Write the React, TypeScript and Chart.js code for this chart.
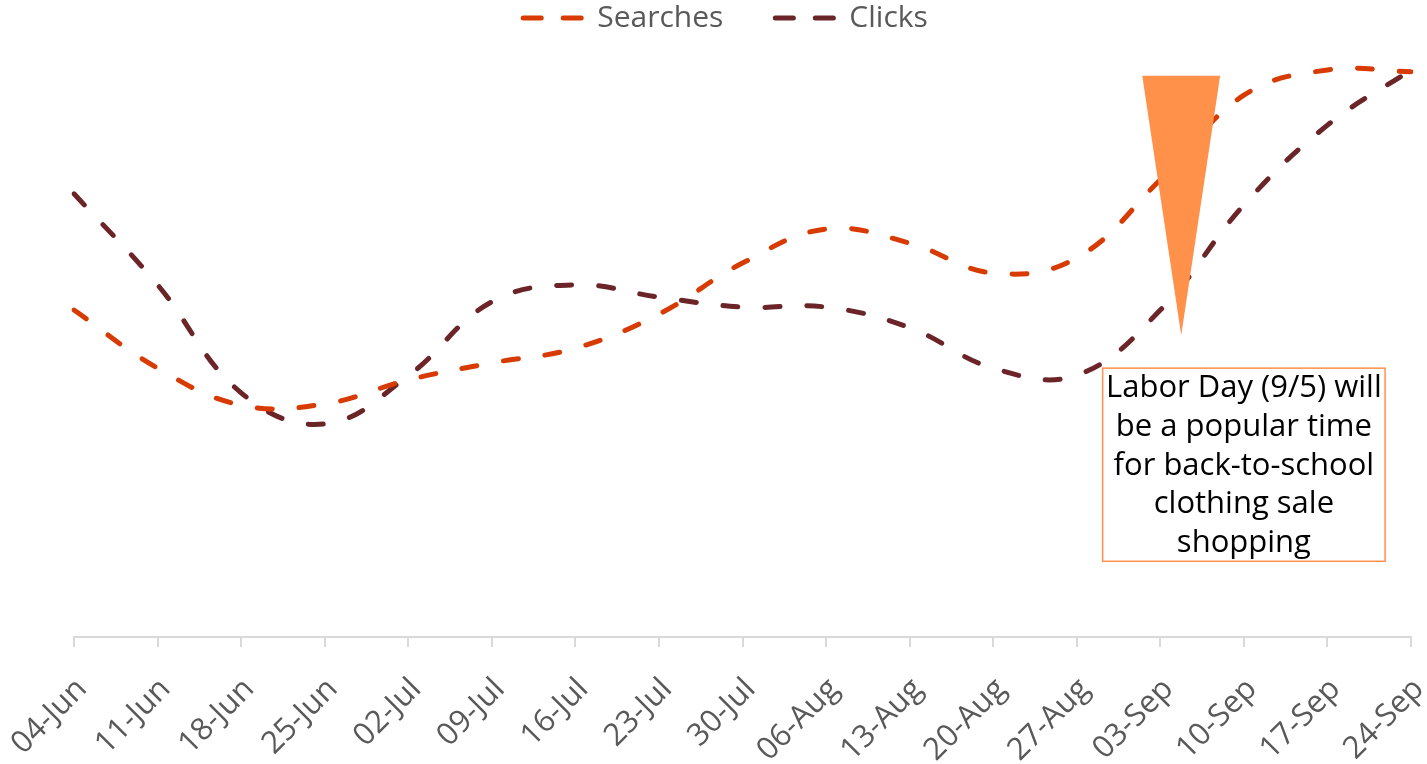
import React, { useEffect, useRef } from "react";
import { Chart, registerables } from "chart.js";

Chart.register(...registerables);

const categories = [
  "04-Jun", "11-Jun", "18-Jun", "25-Jun", "02-Jul", "09-Jul", "16-Jul", "23-Jul",
  "30-Jul", "06-Aug", "13-Aug", "20-Aug", "27-Aug", "03-Sep", "10-Sep", "17-Sep", "24-Sep",
];

const searches = [55.7, 45.8, 39.5, 39.7, 43.8, 46.7, 49.2, 55.0, 63.7, 69.5, 67.1, 62.0, 64.6, 77.9, 92.3, 96.6, 96.3];
const clicks = [75.5, 60.0, 41.6, 36.3, 44.5, 57.1, 60.0, 57.9, 56.2, 56.2, 52.7, 45.8, 44.6, 55.7, 73.6, 87.2, 96.6];

const calloutLines = [
  "Labor Day (9/5) will",
  "be a popular time",
  "for back-to-school",
  "clothing sale",
  "shopping",
];

const FONT = "'Open Sans', 'Noto Sans', sans-serif";

const legendPlugin = {
  id: "dashLegend",
  afterDraw(chart: any) {
    const { ctx } = chart;
    const lineW = 58;
    const gapText = 16;
    const itemGap = 52;
    ctx.save();
    ctx.font = `30px ${FONT}`;
    const items = chart.data.datasets.map((d: any) => ({
      label: d.label,
      color: d.borderColor,
      w: lineW + gapText + ctx.measureText(d.label).width,
    }));
    const total = items.reduce((s: number, it: any) => s + it.w, 0) + itemGap * (items.length - 1);
    let x = chart.width / 2 + 12 - total / 2;
    const cy = 18;
    items.forEach((it: any) => {
      ctx.strokeStyle = it.color;
      ctx.lineWidth = 5;
      ctx.lineCap = "round";
      ctx.setLineDash([18, 22]);
      ctx.beginPath();
      ctx.moveTo(x, cy);
      ctx.lineTo(x + lineW, cy);
      ctx.stroke();
      ctx.setLineDash([]);
      ctx.fillStyle = "#595959";
      ctx.textAlign = "left";
      ctx.textBaseline = "middle";
      ctx.fillText(it.label, x + lineW + gapText, cy);
      x += it.w + itemGap;
    });
    ctx.restore();
  },
};

const annotationPlugin = {
  id: "laborDay",
  afterDatasetsDraw(chart: any) {
    const { ctx, scales } = chart;
    const x = scales.x;
    const y = scales.y;
    const step = x.getPixelForValue(1) - x.getPixelForValue(0);
    ctx.save();
    // triangle between 03-Sep and 10-Sep
    const cx = x.getPixelForValue(13.25);
    const half = step * 0.466;
    const top = y.getPixelForValue(95.6);
    const bot = y.getPixelForValue(51.4);
    ctx.fillStyle = "#FF914B";
    ctx.beginPath();
    ctx.moveTo(cx - half, top);
    ctx.lineTo(cx + half, top);
    ctx.lineTo(cx, bot);
    ctx.closePath();
    ctx.fill();

    // callout box centered on 10-Sep
    const bx = x.getPixelForValue(14);
    const bw = step * 1.69;
    const bt = y.getPixelForValue(45.8);
    const bb = y.getPixelForValue(12.9);
    ctx.fillStyle = "#ffffff";
    ctx.fillRect(bx - bw, bt, bw * 2, bb - bt);
    ctx.strokeStyle = "#FF914B";
    ctx.lineWidth = 1.5;
    ctx.strokeRect(bx - bw, bt, bw * 2, bb - bt);
    ctx.fillStyle = "#000000";
    ctx.font = `31px ${FONT}`;
    ctx.textAlign = "center";
    ctx.textBaseline = "middle";
    const lh = (bb - bt) / calloutLines.length;
    calloutLines.forEach((t, i) => {
      ctx.fillText(t, bx, bt + lh * (i + 0.5) + 1);
    });
    ctx.restore();
  },
};

export default function App() {
  const ref = useRef<HTMLCanvasElement | null>(null);
  useEffect(() => {
    document.body.style.margin = "0";
    const common = {
      borderWidth: 5,
      borderDash: [15, 27],
      borderCapStyle: "round",
      pointRadius: 0,
      tension: 0.4,
    };
    const chart = new Chart(ref.current as HTMLCanvasElement, {
      type: "line",
      data: {
        labels: categories,
        datasets: [
          { label: "Searches", data: searches, borderColor: "#D83B01", backgroundColor: "#D83B01", ...common },
          { label: "Clicks", data: clicks, borderColor: "#6B2427", backgroundColor: "#6B2427", ...common },
        ],
      } as any,
      options: {
        animation: false,
        responsive: true,
        maintainAspectRatio: false,
        layout: { padding: { left: 74, right: 16, top: 50, bottom: 0 } },
        plugins: {
          legend: { display: false },
          tooltip: { enabled: false },
        },
        scales: {
          x: {
            offset: false,
            afterFit: (scale: any) => {
              scale.paddingLeft = 0;
              scale.paddingRight = 0;
              scale.height = 127;
            },
            grid: { drawOnChartArea: false, drawTicks: true, tickLength: 10, color: "#D9D9D9", lineWidth: 2 },
            border: { color: "#D9D9D9", width: 2 },
            ticks: {
              color: "#595959",
              font: { family: FONT, size: 31 },
              minRotation: 45,
              maxRotation: 45,
              autoSkip: false,
              padding: 24,
              labelOffset: 8,
            },
          },
          y: {
            display: false,
            min: 0,
            max: 100,
          },
        },
      } as any,
      plugins: [annotationPlugin, legendPlugin],
    });
    return () => chart.destroy();
  }, []);
  return (
    <div style={{ position: "fixed", left: 0, top: 0, width: "100vw", height: "100vh" }}>
      <canvas ref={ref} />
    </div>
  );
}
